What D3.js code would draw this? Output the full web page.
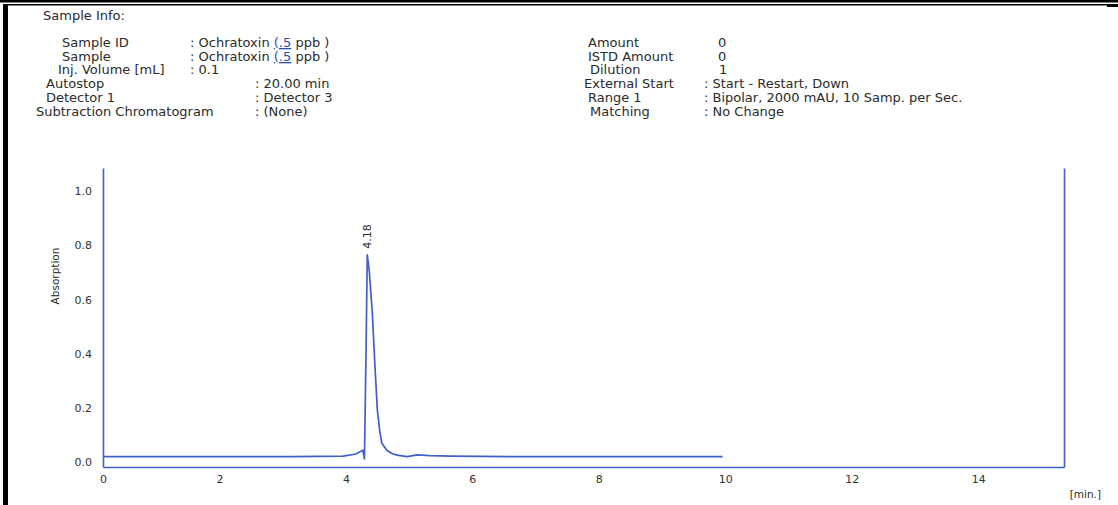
<!DOCTYPE html>
<html>
<head>
<meta charset="utf-8">
<script src="https://cdn.jsdelivr.net/npm/d3@7"></script>
<style>
  body { margin: 0; background: #fff; }
  svg { display: block; }
  text { font-family: "DejaVu Sans", Verdana, sans-serif; fill: #2b2b2b; }
</style>
</head>
<body>
<div id="chart"></div>
<script>
// header info
const leftLabels = ["Sample ID", "Sample", "Inj. Volume [mL]", "Autostop", "Detector 1", "Subtraction Chromatogram"];
const leftValues = [": Ochratoxin ", ": Ochratoxin ", ": 0.1", ": 20.00 min", ": Detector 3", ": (None)"];
const rightLabels = ["Amount", "ISTD Amount", "Dilution", "External Start", "Range 1", "Matching"];
const rightValues = ["0", "0", "1", ": Start - Restart, Down", ": Bipolar, 2000 mAU, 10 Samp. per Sec.", ": No Change"];

// chromatogram trace (min, absorption)
const times = [0, 1, 2, 3, 3.8, 4.0, 4.08, 4.11, 4.135, 4.16, 4.18, 4.21, 4.26, 4.30, 4.34, 4.38, 4.41, 4.49, 4.57, 4.65, 4.81, 4.97, 5.17, 5.5, 6, 7, 8, 9, 9.8];
const absorption = [0.02, 0.02, 0.02, 0.02, 0.022, 0.03, 0.04, 0.044, 0.012, 0.40, 0.765, 0.71, 0.55, 0.36, 0.19, 0.11, 0.07, 0.044, 0.032, 0.026, 0.02, 0.027, 0.024, 0.022, 0.021, 0.02, 0.02, 0.02, 0.02];
const peakTime = 4.18;
const peakLabel = "4.18";

const xTicks = [0, 2, 4, 6, 8, 10, 12, 14];
const yTicks = [0, 0.2, 0.4, 0.6, 0.8, 1.0];

const W = 1118, H = 505;
const blue = "#3f5fcf";
const fs = 13;

const svg = d3.select("#chart").append("svg")
  .attr("width", W)
  .attr("height", H);

// page frame bits
svg.append("rect").attr("x", 0).attr("y", 0).attr("width", W).attr("height", 2.5).attr("fill", "#000");
svg.append("rect").attr("x", 8).attr("y", 4).attr("width", W - 8).attr("height", 1.5).attr("fill", "#000");
svg.append("rect").attr("x", 3).attr("y", 4).attr("width", 5).attr("height", H - 4).attr("fill", "#000");
svg.append("rect").attr("x", 1107).attr("y", 5).attr("width", 11).attr("height", 2).attr("fill", "#000");

// header
svg.append("text").attr("x", 43).attr("y", 20).attr("font-size", fs).text("Sample Info:");

const rowY = [47, 61, 74, 88, 102, 116];
const leftLabelX = [62, 62, 58, 46, 46, 36];
const leftValueX = [190, 190, 190, 255, 255, 255];
const rightLabelX = [588, 588, 590, 584, 588, 590];
const rightValueX = [718, 718, 719, 704, 704, 704];

leftLabels.forEach((d, i) => {
  svg.append("text").attr("x", leftLabelX[i]).attr("y", rowY[i]).attr("font-size", fs).text(d);
  const t = svg.append("text").attr("x", leftValueX[i]).attr("y", rowY[i]).attr("font-size", fs);
  t.append("tspan").text(leftValues[i]);
  if (i < 2) {
    t.append("tspan").style("fill", "#2a4fb0")
      .attr("text-decoration", "underline").text("(.5");
    t.append("tspan").text(" ppb )");
  }
});

rightLabels.forEach((d, i) => {
  svg.append("text").attr("x", rightLabelX[i]).attr("y", rowY[i]).attr("font-size", fs).text(d);
  svg.append("text").attr("x", rightValueX[i]).attr("y", rowY[i]).attr("font-size", fs).text(rightValues[i]);
});

// chart
const x = d3.scaleLinear().domain([0, 15.2]).range([103, 1064]);
const y = d3.scaleLinear().domain([-0.018, 1.085]).range([467, 168]);

svg.append("g")
  .attr("transform", "translate(103,0)")
  .call(d3.axisLeft(y).tickValues(yTicks).tickSize(0).tickPadding(11).tickFormat(d3.format(".1f")));

const xAxis = svg.append("g")
  .attr("transform", "translate(0,467)")
  .call(d3.axisBottom(x).tickValues(xTicks).tickSize(0).tickPadding(8).tickFormat(d3.format("d")));

svg.append("g")
  .attr("transform", "translate(1064,0)")
  .call(d3.axisRight(y).tickValues([]).tickSizeOuter(0));

svg.selectAll(".domain").attr("stroke", blue).attr("stroke-width", 1.6);
svg.selectAll(".tick text").attr("font-size", 11).attr("font-family", "DejaVu Sans, Verdana, sans-serif").style("fill", "#333");
xAxis.selectAll(".tick text").attr("dx", (d) => (d === 0 ? 0 : -10));

svg.append("text")
  .attr("transform", `translate(59,276) rotate(-90)`)
  .attr("text-anchor", "middle")
  .attr("font-size", 10.5)
  .text("Absorption");

svg.append("text")
  .attr("x", 1101)
  .attr("y", 498)
  .attr("text-anchor", "end")
  .attr("font-size", 10.5)
  .text("[min.]");

// trace
const pts = times.map((t, i) => [t, absorption[i]]);
svg.append("path")
  .datum(pts)
  .attr("fill", "none")
  .attr("stroke", blue)
  .attr("stroke-width", 1.7)
  .attr("stroke-linejoin", "round")
  .attr("d", d3.line().x((d) => x(d[0])).y((d) => y(d[1])));

// peak label
const peakVal = absorption[times.indexOf(peakTime)];
svg.append("text")
  .attr("transform", `translate(${x(peakTime) + 4},${y(peakVal) - 6}) rotate(-90)`)
  .attr("font-size", 11)
  .text(peakLabel);
</script>
</body>
</html>
